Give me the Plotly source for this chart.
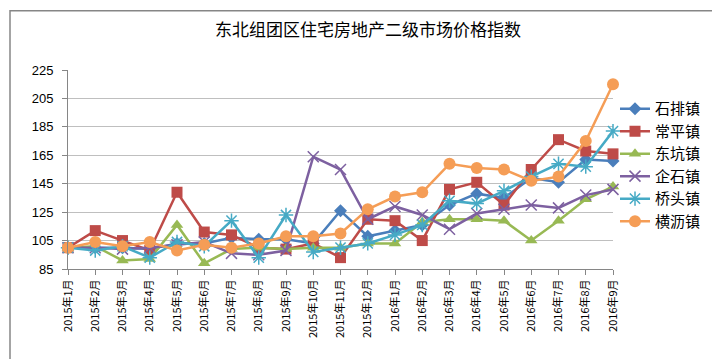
import plotly.graph_objects as go

months = ["2015年1月","2015年2月","2015年3月","2015年4月","2015年5月","2015年6月","2015年7月",
          "2015年8月","2015年9月","2015年10月","2015年11月","2015年12月","2016年1月","2016年2月",
          "2016年3月","2016年4月","2016年5月","2016年6月","2016年7月","2016年8月","2016年9月"]

shipai    = [100, 100, 100, 99, 103, 103, 107, 106, 106, 103, 126, 108, 112, 116, 130, 138, 135, 149, 146, 162, 161]
changping = [100, 112, 105, 98, 139, 111, 109, 100, 99, 103, 93, 120, 119, 105, 141, 146, 130, 155, 176, 168, 166]
dongkeng  = [100, 101, 91, 92, 116, 89, 99, 100, 99, 100, 100, 103, 103, 118, 120, 120, 119, 105, 119, 134, 143]
qishi     = [100, 100, 99, 100, 102, 104, 96, 95, 98, 164, 155, 120, 129, 123, 113, 124, 127, 130, 128, 137, 141]
qiaotou   = [100, 98, 101, 93, 104, 101, 119, 93, 123, 97, 100, 103, 109, 116, 133, 131, 140, 150, 159, 157, 182]
hengli    = [100, 104, 101, 104, 98, 102, 100, 103, 108, 108, 110, 127, 136, 139, 159, 156, 155, 147, 150, 175, 215]

series = [
    ("石排镇", shipai,    "#4A7EBB", dict(symbol="diamond", size=10)),
    ("常平镇", changping, "#BE4B48", dict(symbol="square", size=11)),
    ("东坑镇", dongkeng,  "#98B954", dict(symbol="triangle-up", size=11)),
    ("企石镇", qishi,     "#7D60A0", dict(symbol="x-thin-open", size=11, line=dict(width=1.5))),
    ("桥头镇", qiaotou,   "#46AAC5", dict(symbol="asterisk-open", size=12, line=dict(width=1.5))),
    ("横沥镇", hengli,    "#F59D56", dict(symbol="circle", size=12)),
]

fig = go.Figure()
for name, vals, color, mk in series:
    m = dict(mk)
    m["color"] = color
    if "line" in m:
        m["line"] = dict(width=m["line"]["width"], color=color)
    fig.add_trace(go.Scatter(x=months, y=vals, name=name, mode="lines+markers",
                             line=dict(color=color, width=2.5), marker=m, cliponaxis=False))

W, H = 720, 359
L, R, T, B = 60, 115, 61.5, 97.5
pw = W - L - R
ph = H - T - B

fig.update_layout(
    width=W, height=H,
    margin=dict(l=L, r=R, t=T, b=B),
    paper_bgcolor="white", plot_bgcolor="white",
    font=dict(family="Liberation Sans, Noto Sans CJK SC", color="#000000"),
    title=dict(text="东北组团区住宅房地产二级市场价格指数", x=0.5, xanchor="center",
               y=1 - 22 / H, yanchor="middle",
               font=dict(family="Noto Sans CJK SC", size=17, color="#000000")),
    showlegend=True,
    legend=dict(x=(607 - L) / pw, y=1 - (84 - T) / ph, xanchor="left", yanchor="top",
                font=dict(family="Noto Sans CJK SC", size=15, color="#000000"),
                tracegroupgap=0, itemwidth=30, bgcolor="rgba(0,0,0,0)"),
    xaxis=dict(type="category", categoryorder="array", categoryarray=months,
               range=[0, len(months) - 1], tickangle=-90, tickmode="array",
               tickvals=months, ticktext=months,
               tickfont=dict(family="Liberation Sans Narrow, Noto Sans CJK SC", size=11),
               showline=True, linecolor="#868686", linewidth=1,
               ticks="outside", ticklen=5, tickcolor="#868686",
               showgrid=False, zeroline=False),
    yaxis=dict(range=[85, 225], tick0=85, dtick=20, tickfont=dict(size=13),
               ticklabelstandoff=6,
               showline=True, linecolor="#868686", linewidth=1,
               ticks="outside", ticklen=5, tickcolor="#868686",
               showgrid=True, gridcolor="#BFBFBF", gridwidth=1, zeroline=False),
)

fig.add_shape(type="rect", xref="paper", yref="paper",
              x0=(2 - L) / pw, x1=(717 - L) / pw, y0=-(H - 3 - T - ph) / ph, y1=1 + (T - 2) / ph,
              line=dict(color="#868686", width=1.5), fillcolor="rgba(0,0,0,0)", layer="below")

fig.write_html("out.html")
